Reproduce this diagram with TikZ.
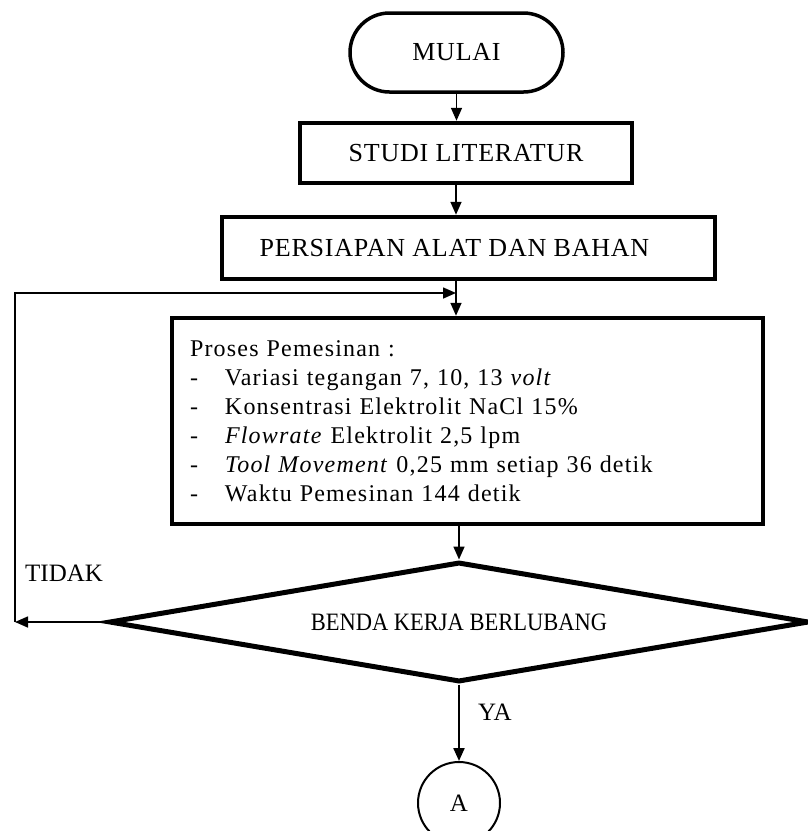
\documentclass[tikz,border=0pt]{standalone}
\usepackage{fontspec}
\usepackage{graphicx}
\setmainfont{Liberation Serif}
\newfontfamily\spacedfont[LetterSpace=5]{Liberation Serif}
\newfontfamily\labelfont[LetterSpace=3]{Liberation Serif}
\usetikzlibrary{shapes.geometric,shapes.misc,arrows.meta}
\begin{document}
\begin{tikzpicture}[x=1pt,y=-1pt,
  box/.style={draw,line width=4.5pt,inner sep=0pt,font=\labelfont\fontsize{26}{31}\selectfont},
  term/.style={draw,rounded rectangle,line width=3.5pt,inner sep=0pt,minimum width=213pt,minimum height=79pt,font=\labelfont\fontsize{26}{31}\selectfont},
  dec/.style={draw,diamond,line width=5pt,aspect=5.83,inner sep=0pt,minimum width=700pt,minimum height=120pt,font=\fontsize{25}{30}\selectfont},
  conn/.style={draw,circle,line width=2pt,minimum size=82pt,inner sep=0pt,font=\fontsize{25}{30}\selectfont},
  arr/.style={line width=1.6pt,-{Triangle[width=11pt,length=13pt]}},
  lbl/.style={font=\fontsize{25}{30}\selectfont,inner sep=0pt}]
\path[fill=white,use as bounding box] (0,0) rectangle (808,831);
\node[term] (mulai) at (456.5,52.5) {MULAI};
\node[box,minimum width=332pt,minimum height=60pt] (studi) at (466,153) {STUDI LITERATUR};
\node[box,minimum width=493pt,minimum height=62pt] (alat) at (468.5,248) {\hspace*{-28pt}PERSIAPAN ALAT DAN BAHAN};
\node[box,minimum width=591pt,minimum height=206pt,text width=555pt,align=left,font=\spacedfont\fontsize{24}{29}\selectfont] (proses) at (467.5,421)
  {Proses Pemesinan :\\
   \makebox[35pt][l]{-}Variasi tegangan 7, 10, 13 \textit{volt}\\
   \makebox[35pt][l]{-}Konsentrasi Elektrolit NaCl 15\%\\
   \makebox[35pt][l]{-}\textit{Flowrate} Elektrolit 2,5 lpm\\
   \makebox[35pt][l]{-}\textit{Tool Movement} 0,25 mm setiap 36 detik\\
   \makebox[35pt][l]{-}Waktu Pemesinan 144 detik};
\node[dec] (dia) at (459,622) {\scalebox{0.9}[1]{BENDA KERJA BERLUBANG}};
\node[conn] (a) at (459,803) {A};
\node[lbl,anchor=west] (tidak) at (25,573) {TIDAK};
\node[lbl,anchor=west] (ya) at (478,712) {YA};
\coordinate (ax) at (456,0);
\coordinate (fb) at (15,293);
\draw[arr] (mulai.south) -- (mulai.south |- studi.north);
\draw[arr] (studi.south -| ax) -- (alat.north -| ax);
\draw[arr] (alat.south -| ax) -- (proses.north -| ax);
\draw[arr] (proses.south -| dia.north) -- (dia.north);
\draw[arr] (dia.west) -- (dia.west -| fb);
\draw[arr] (dia.west -| fb) -- (fb) -- (fb -| ax);
\draw[arr,line width=2.2pt] (dia.south) -- (a.north);
\end{tikzpicture}
\end{document}
